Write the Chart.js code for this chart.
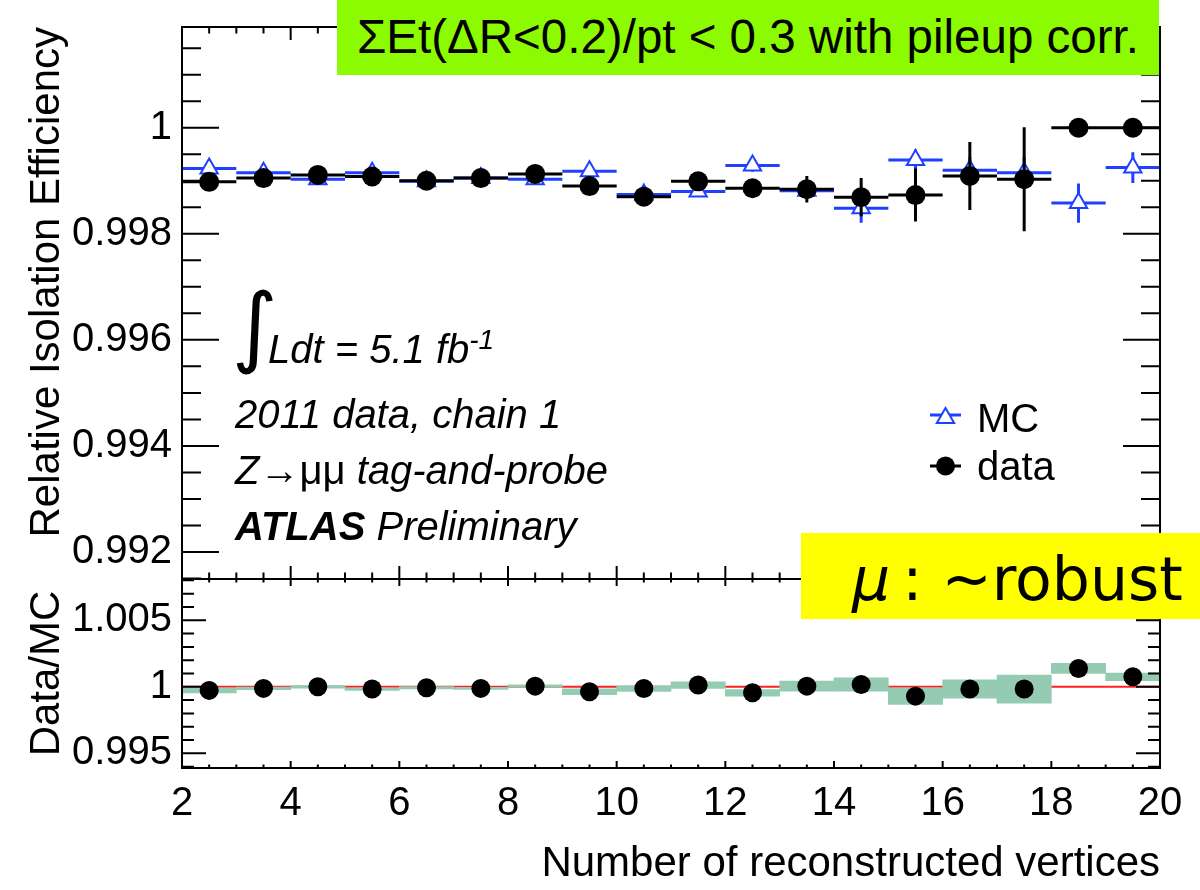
<!DOCTYPE html>
<html>
<head>
<meta charset="utf-8">
<script src="https://cdn.jsdelivr.net/npm/chart.js@4.4.1/dist/chart.umd.min.js"></script>
<style>
  html, body { margin: 0; padding: 0; background: #fff; }
  #wrap { position: relative; width: 1200px; height: 890px; overflow: hidden; font-family: 'Liberation Sans', Arial, sans-serif; }
  canvas { position: absolute; left: 0; top: 0; }
  .txt { position: absolute; white-space: nowrap; line-height: 1; color: #000; font-size: 40px; }
  .it { font-style: italic; }
  .box { position: absolute; }
</style>
</head>
<body>
<div id="wrap">
  <canvas id="effChart" width="1200" height="890"></canvas>
  <canvas id="ratioChart" width="1200" height="890"></canvas>

  <div class="txt" style="left:232px; top:282px; font-size:88px; font-family:'DejaVu Sans';">∫</div>
  <div class="txt it" style="left:268px; top:326px;">Ldt = 5.1 fb<sup style="font-size:28px; vertical-align:14px;">-1</sup></div>
  <div class="txt it" style="left:235px; top:394px;">2011 data, chain 1</div>
  <div class="txt" style="left:235px; top:450px;"><i>Z</i>→μμ <i>tag-and-probe</i></div>
  <div class="txt it" style="left:235px; top:506px;"><b>ATLAS</b> Preliminary</div>

  <div class="txt" style="left:977px; top:398px;">MC</div>
  <div class="txt" style="left:977px; top:446px;">data</div>

  <div class="box" style="left:337px; top:0; width:822px; height:75px; background:#8cfa00;"></div>
  <div class="txt" style="left:357px; top:13px; font-size:47.5px;">ΣEt(ΔR&lt;0.2)/pt &lt; 0.3 with pileup corr.</div>

  <div class="box" style="left:801px; top:533px; width:399px; height:86px; background:#ffff00;"></div>
  <div class="txt" style="left:852px; top:549px; font-size:60px; font-family:'DejaVu Sans';"><i>μ</i>&#8201;: ~robust</div>
</div>
<script>
const FONT = "'Liberation Sans', Arial, sans-serif";
const BLUE = '#2040ff';
const BAND = '#95cbb3';

// bins of the number of reconstructed vertices (centres, width 1)
const vertexBins = [2.5, 3.5, 4.5, 5.5, 6.5, 7.5, 8.5, 9.5, 10.5, 11.5, 12.5, 13.5, 14.5, 15.5, 16.5, 17.5, 18.5, 19.5];

// relative isolation efficiency, MC
const mcEff = [0.99923, 0.99915, 0.99903, 0.99915, 0.99899, 0.99905, 0.99903, 0.99918, 0.99874, 0.99880,
               0.99929, 0.99881, 0.99848, 0.99939, 0.99920, 0.99915, 0.99858, 0.99925];
const mcErr = [0.00003, 0.00003, 0.00003, 0.00004, 0.00004, 0.00005, 0.00006, 0.00007, 0.00008, 0.00010,
               0.00012, 0.00015, 0.00027, 0.00020, 0.00025, 0.00030, 0.00037, 0.00029];

// relative isolation efficiency, data
const dataEff = [0.99898, 0.99905, 0.99911, 0.99908, 0.99900, 0.99905, 0.99913, 0.99890, 0.99870, 0.99899,
                 0.99886, 0.99884, 0.99869, 0.99873, 0.99909, 0.99903, 1.00000, 1.00000];
const dataErr = [0.00003, 0.00003, 0.00004, 0.00004, 0.00005, 0.00006, 0.00007, 0.00009, 0.00010, 0.00012,
                 0.00015, 0.00025, 0.00036, 0.00050, 0.00064, 0.00098, 0, 0];

// data / MC
const ratioVal = [0.99973, 0.99988, 1.00000, 0.99983, 0.99993, 0.99988, 1.00005, 0.99963, 0.99987, 1.00013,
                  0.99955, 1.00005, 1.00018, 0.99930, 0.99983, 0.99983, 1.00138, 1.00075];
const ratioErr = [0.00019, 0.00010, 0.00010, 0.00010, 0.00008, 0.00008, 0.00010, 0.00022, 0.00021, 0.00025,
                  0.00025, 0.000375, 0.00050, 0.000625, 0.00069, 0.00106, 0.000375, 0.00029];
const ratioReference = 1;

// axes
const xRange = [2, 20];
const xTickValues = [2, 4, 6, 8, 10, 12, 14, 16, 18, 20];
const xTickLabels = ['2', '4', '6', '8', '10', '12', '14', '16', '18', '20'];
const effRange = [0.99149, 1.0019];
const effTickValues = [0.992, 0.994, 0.996, 0.998, 1.0];
const effTickLabels = ['0.992', '0.994', '0.996', '0.998', '1'];
const ratioRange = [0.9939, 1.0081];
const ratioTickValues = [0.995, 1.0, 1.005];
const ratioTickLabels = ['0.995', '1', '1.005'];

// horizontal bin-width bars, broken between bins with null points
function binBars(values) {
  const pts = [];
  vertexBins.forEach((c, i) => {
    pts.push({ x: c - 0.5, y: values[i] }, { x: c + 0.5, y: values[i] }, { x: c + 0.5, y: null });
  });
  return pts;
}

// vertical error bars
function errBars(values, errors) {
  const pts = [];
  vertexBins.forEach((c, i) => {
    if (errors[i] > 0) {
      pts.push({ x: c, y: values[i] - errors[i] }, { x: c, y: values[i] + errors[i] }, { x: c, y: null });
    }
  });
  return pts;
}

const markers = values => vertexBins.map((c, i) => ({ x: c, y: values[i] }));

function segmentSet(data, color, order) {
  return { data, showLine: true, borderColor: color, borderWidth: 3, borderCapStyle: 'butt',
           pointRadius: 0, spanGaps: false, order };
}

// fixed-width y axis, no extra room for the label overhang
function fixYAxis(s) {
  s.width = 182;
  s.paddingTop = 0;
  s.paddingBottom = 0;
}

// frame with inward ticks on all four sides
const rootFrame = {
  id: 'rootFrame',
  afterDraw(chart, args, opts) {
    const { ctx, chartArea: a, scales } = chart;
    const xs = scales.x, ys = scales.y;
    ctx.save();
    ctx.strokeStyle = '#000';
    ctx.lineWidth = 2;
    const steps = (min, max, step) => {
      const out = [];
      for (let k = Math.ceil(min / step - 1e-6); k * step <= max + 1e-9; k++) out.push(k * step);
      return out;
    };
    const isMajor = (v, major) => Math.abs(v / major - Math.round(v / major)) < 1e-4;
    ctx.beginPath();
    steps(xs.min, xs.max, opts.xMinor).forEach(v => {
      const px = xs.getPixelForValue(v);
      const len = isMajor(v, opts.xMajor) ? opts.xMajorLen : opts.xMinorLen;
      ctx.moveTo(px, a.bottom); ctx.lineTo(px, a.bottom - len);
      ctx.moveTo(px, a.top); ctx.lineTo(px, a.top + len);
    });
    steps(ys.min, ys.max, opts.yMinor).forEach(v => {
      const py = ys.getPixelForValue(v);
      const len = isMajor(v, opts.yMajor) ? opts.yMajorLen : opts.yMinorLen;
      ctx.moveTo(a.left, py); ctx.lineTo(a.left + len, py);
      ctx.moveTo(a.right, py); ctx.lineTo(a.right - len, py);
    });
    ctx.stroke();
    ctx.strokeRect(a.left, a.top, a.right - a.left, a.bottom - a.top);
    ctx.restore();
  }
};

// legend symbols (MC / data)
const legendMarks = {
  id: 'legendMarks',
  afterDraw(chart) {
    const ctx = chart.ctx;
    ctx.save();
    ctx.lineWidth = 3;
    ctx.strokeStyle = BLUE;
    ctx.beginPath(); ctx.moveTo(930, 415); ctx.lineTo(961, 415); ctx.stroke();
    const r = 10;
    ctx.beginPath();
    for (let k = 0; k < 3; k++) {
      const ang = k * 2 * Math.PI / 3;
      const px = 945.5 + Math.sin(ang) * r, py = 418 - Math.cos(ang) * r;
      k ? ctx.lineTo(px, py) : ctx.moveTo(px, py);
    }
    ctx.closePath();
    ctx.fillStyle = '#fff'; ctx.fill();
    ctx.lineWidth = 2; ctx.stroke();
    ctx.strokeStyle = '#000'; ctx.lineWidth = 3;
    ctx.beginPath(); ctx.moveTo(930, 466); ctx.lineTo(961, 466); ctx.stroke();
    ctx.fillStyle = '#000';
    ctx.beginPath(); ctx.arc(945.5, 466, 9.5, 0, 2 * Math.PI); ctx.fill();
    ctx.restore();
  }
};

Chart.defaults.font.family = FONT;
Chart.defaults.color = '#000';

const tickFont = { family: FONT, size: 40, lineHeight: 1.2 };
const titleFont = { family: FONT, size: 42, lineHeight: 1.2 };

new Chart(document.getElementById('effChart'), {
  type: 'scatter',
  data: {
    datasets: [
      { label: 'data', data: markers(dataEff), pointStyle: 'circle', pointRadius: 10, pointBorderWidth: 0,
        backgroundColor: '#000', borderColor: '#000', order: 0 },
      segmentSet(binBars(dataEff), '#000', 1),
      segmentSet(errBars(dataEff, dataErr), '#000', 1),
      { label: 'MC', data: markers(mcEff), pointStyle: 'triangle', pointRadius: 10, pointBorderWidth: 2,
        backgroundColor: '#fff', borderColor: BLUE, order: 2 },
      segmentSet(binBars(mcEff), BLUE, 3),
      segmentSet(errBars(mcEff, mcErr), BLUE, 3)
    ]
  },
  options: {
    responsive: false,
    animation: false,
    events: [],
    layout: { padding: { top: 27, right: 40, bottom: 311, left: 0 } },
    plugins: {
      legend: { display: false },
      tooltip: { enabled: false },
      rootFrame: { xMajor: 2, xMinor: 0.5, xMajorLen: 13, xMinorLen: 6.5,
                   yMajor: 0.002, yMinor: 0.0005, yMajorLen: 37, yMinorLen: 19 }
    },
    scales: {
      x: { type: 'linear', min: xRange[0], max: xRange[1], offset: false, display: false },
      y: {
        type: 'linear', min: effRange[0], max: effRange[1],
        afterFit: fixYAxis,
        afterBuildTicks: s => { s.ticks = effTickValues.map(v => ({ value: v })); },
        grid: { display: false, drawTicks: false },
        border: { display: false },
        ticks: { font: tickFont, color: '#000', padding: 10, callback: (v, i) => effTickLabels[i] },
        title: { display: true, text: 'Relative Isolation Efficiency', font: titleFont, color: '#000',
                 align: 'end', padding: { top: 22, bottom: 0 } }
      }
    }
  },
  plugins: [rootFrame, legendMarks]
});

new Chart(document.getElementById('ratioChart'), {
  type: 'scatter',
  data: {
    datasets: [
      { label: 'Data/MC', data: markers(ratioVal), pointStyle: 'circle', pointRadius: 9.5, pointBorderWidth: 0,
        backgroundColor: '#000', borderColor: '#000', order: 0 },
      { type: 'bar', data: vertexBins.map((c, i) => ({ x: c, y: [ratioVal[i] - ratioErr[i], ratioVal[i] + ratioErr[i]] })),
        backgroundColor: BAND, borderWidth: 0, barPercentage: 1, categoryPercentage: 1, grouped: false, order: 1 },
      { data: [{ x: xRange[0], y: ratioReference }, { x: xRange[1], y: ratioReference }], showLine: true,
        borderColor: '#ff2020', borderWidth: 2, pointRadius: 0, order: 2 }
    ]
  },
  options: {
    responsive: false,
    animation: false,
    events: [],
    layout: { padding: { top: 579, right: 40, bottom: 0, left: 0 } },
    plugins: {
      legend: { display: false },
      tooltip: { enabled: false },
      rootFrame: { xMajor: 2, xMinor: 0.5, xMajorLen: 7, xMinorLen: 3.5,
                   yMajor: 0.005, yMinor: 0.001, yMajorLen: 24, yMinorLen: 12 }
    },
    scales: {
      x: {
        type: 'linear', min: xRange[0], max: xRange[1], offset: false,
        afterFit: s => { s.height = 122; },
        afterBuildTicks: s => { s.ticks = xTickValues.map(v => ({ value: v })); },
        grid: { display: false, drawTicks: false, offset: false },
        border: { display: false },
        ticks: { font: tickFont, color: '#000', padding: 12, maxRotation: 0, callback: (v, i) => xTickLabels[i] },
        title: { display: true, text: 'Number of reconstructed vertices', font: titleFont, color: '#000',
                 align: 'end', padding: { top: 0, bottom: 0 } }
      },
      y: {
        type: 'linear', min: ratioRange[0], max: ratioRange[1],
        afterFit: fixYAxis,
        afterBuildTicks: s => { s.ticks = ratioTickValues.map(v => ({ value: v })); },
        grid: { display: false, drawTicks: false },
        border: { display: false },
        ticks: { font: tickFont, color: '#000', padding: 10, callback: (v, i) => ratioTickLabels[i] },
        title: { display: true, text: 'Data/MC', font: titleFont, color: '#000',
                 align: 'center', padding: { top: 22, bottom: 0 } }
      }
    }
  },
  plugins: [rootFrame]
});
</script>
</body>
</html>
